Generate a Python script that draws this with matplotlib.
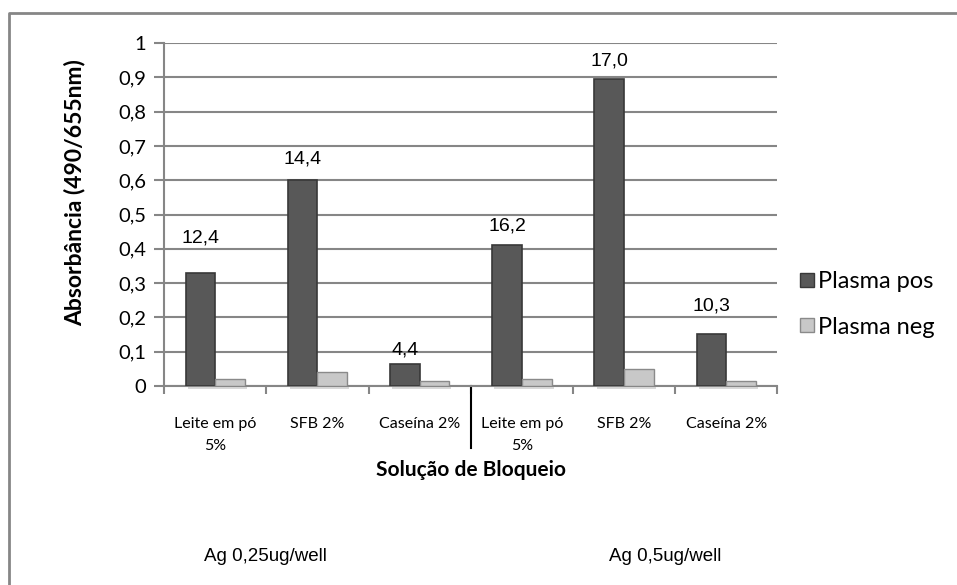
import matplotlib
matplotlib.use("Agg")
import matplotlib.pyplot as plt
import matplotlib.transforms as mtransforms
from matplotlib.lines import Line2D
import numpy as np

categories = ["Leite em pó\n5%", "SFB 2%", "Caseína 2%",
              "Leite em pó\n5%", "SFB 2%", "Caseína 2%"]
plasma_pos = [0.33, 0.60, 0.065, 0.41, 0.895, 0.153]
plasma_neg = [0.022, 0.040, 0.015, 0.022, 0.050, 0.015]
pos_labels = ["12,4", "14,4", "4,4", "16,2", "17,0", "10,3"]
group_labels = ["Ag 0,25ug/well", "Ag 0,5ug/well"]
y_ticks = [0, 0.1, 0.2, 0.3, 0.4, 0.5, 0.6, 0.7, 0.8, 0.9, 1.0]

# label offsets above bar tops (points)
label_offsets = [19, 9, 4, 8, 6.5, 14]

plt.rcParams["font.family"] = ["Lato", "DejaVu Sans"]

fig = plt.figure(figsize=(9.57, 5.85), dpi=100)
ax = fig.add_axes([0.1714, 0.340, 0.641, 0.5865])

x = np.arange(len(categories))
w = 0.29
ax.bar(x - w / 2, plasma_pos, width=w, color="#585858",
       edgecolor="#383838", linewidth=1.2, zorder=3)
ax.bar(x + w / 2, plasma_neg, width=w, color="#c8c8c8",
       edgecolor="#8a8a8a", linewidth=1.0, zorder=3)

# soft shadow under bars
for xi in x:
    ax.bar(xi + 0.02, 0.008, width=2 * w, bottom=-0.008, color="#d9d9d9",
           linewidth=0, zorder=2, clip_on=False)

for xi, val, lab, off in zip(x, plasma_pos, pos_labels, label_offsets):
    ax.annotate(lab, (xi - w / 2, val), xytext=(0, off), textcoords="offset points",
                ha="center", va="bottom", fontsize=14, family="Liberation Sans")

ax.set_xlim(-0.5, len(categories) - 0.5)
ax.set_ylim(0, 1)
ax.set_yticks(y_ticks)
ax.set_yticklabels([("%g" % t).replace(".", ",") for t in y_ticks], fontsize=14.5)
ax.yaxis.grid(True, color="#868686", linewidth=1.5, zorder=0)
ax.set_axisbelow(True)

ax.set_xticks(np.arange(-0.5, len(categories), 1.0))
ax.set_xticklabels([])
ax.set_xticks(x, minor=True)
ax.set_xticklabels(categories, minor=True, fontsize=11.5, linespacing=1.75)
ax.tick_params(axis="x", which="minor", length=0, pad=22)
ax.tick_params(axis="x", which="major", length=6, color="#868686", width=1.5)
ax.tick_params(axis="y", length=7, color="#868686", width=1.5, pad=6)

for side in ["top", "right"]:
    ax.spines[side].set_visible(False)
for side in ["left", "bottom"]:
    ax.spines[side].set_color("#868686")
    ax.spines[side].set_linewidth(1.5)

ax.set_ylabel("Absorbância (490/655nm)", fontsize=16.5, fontweight="bold")
ax.yaxis.set_label_coords(-0.128, 0.563)
ax.set_xlabel("Solução de Bloqueio", fontsize=15, fontweight="bold")
ax.xaxis.set_label_coords(0.5, -0.215)

# separator between the two antigen groups
trans = mtransforms.blended_transform_factory(ax.transData, ax.transAxes)
ax.plot([2.5, 2.5], [0, -0.18], color="black", linewidth=1.5, transform=trans,
        clip_on=False)

fig.text(0.277, 0.049, group_labels[0], ha="center", va="center",
         fontsize=13.5, family="Liberation Sans")
fig.text(0.695, 0.049, group_labels[1], ha="center", va="center",
         fontsize=13.5, family="Liberation Sans")

handles = [Line2D([], [], marker="s", linestyle="none", markersize=10,
                  markerfacecolor="#585858", markeredgecolor="#383838"),
           Line2D([], [], marker="s", linestyle="none", markersize=10,
                  markerfacecolor="#c8c8c8", markeredgecolor="#8a8a8a")]
fig.legend(handles, ["Plasma pos", "Plasma neg"], loc="center left",
           bbox_to_anchor=(0.814, 0.480), frameon=False, fontsize=17,
           handlelength=0.6, handletextpad=0.15, labelspacing=1.05)

# outer chart border (left and top edges visible)
fig.add_artist(Line2D([0.0095, 0.0095, 1.0], [0.0, 0.978, 0.978],
                      transform=fig.transFigure, color="#868686", linewidth=2))

fig.savefig("out.png", dpi=100)
